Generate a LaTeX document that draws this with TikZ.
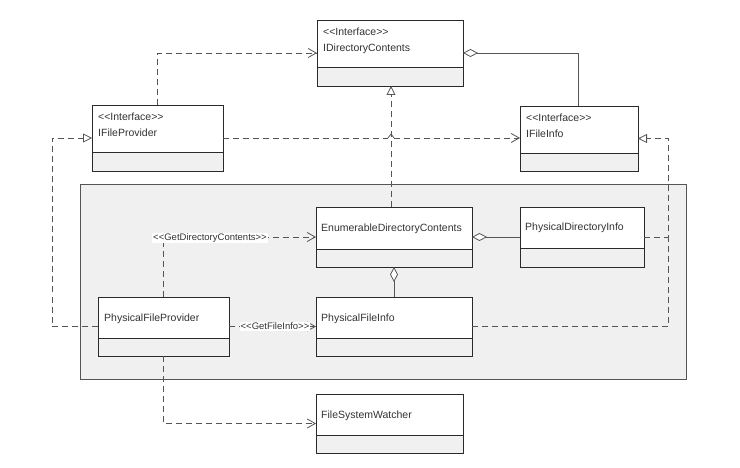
\documentclass[tikz,border=0pt]{standalone}
\usepackage{fontspec}
\setmainfont{Liberation Sans}
\usetikzlibrary{arrows.meta}
\definecolor{txt}{HTML}{333333}
\definecolor{ln}{HTML}{555555}
\definecolor{pk}{HTML}{F0F0F0}
\definecolor{bd}{HTML}{2A2A2A}
\newcommand\st[1]{<\kern0pt<#1>\kern0pt>}
\tikzset{
  box/.style={draw=bd, line width=0.9pt, fill=white, inner sep=0pt, outer sep=0pt, anchor=north west},
  comp/.style={fill=pk},
  bdline/.style={draw=bd, line width=0.9pt},
  lbl/.style={text=txt, font=\fontsize{10.5}{12}\selectfont, inner sep=0pt, anchor=base west},
  tag/.style={text=txt, font=\fontsize{9.5}{11}\selectfont, fill=white, inner sep=1pt},
  conn/.style={draw=ln, line width=0.8pt},
  dep/.style={conn, dash pattern=on 6pt off 4pt},
  openarr/.style={-{Straight Barb[length=8pt,width=9pt,line width=0.8pt]}},
  realize/.style={-{Triangle[open,length=9pt,width=9pt,fill=white,line width=0.8pt]}},
  aggr/.style={-{Diamond[open,length=15pt,width=8pt,fill=white,line width=0.8pt]}},
}
% name, left, top, right, bottom, divider
\newcommand\umlclass[6]{%
  \node[box, minimum width={(#4-#2)*1pt}, minimum height={(#5-#3)*1pt}] (#1) at (#2,#3) {};
  \fill[comp] (#2,#6) rectangle (#4,#5);
  \draw[bdline] (#2,#6) -- (#4,#6);
  \draw[bdline] (#2,#3) rectangle (#4,#5);
}
\begin{document}
\begin{tikzpicture}[x=1pt,y=-1pt]
\useasboundingbox (0,0) rectangle (740,468);
% package
\node[draw=bd!80, fill=pk, line width=0.9pt, inner sep=0pt, anchor=north west,
      minimum width=606pt, minimum height=195pt] (pkg) at (80,184) {};

% classes
\umlclass{IDC}{317}{20}{463}{86}{67}
\node[lbl] (IDCs) at (323,36) {\st{Interface}};
\node[lbl] (IDCn) at (323,52) {IDirectoryContents};

\umlclass{IFP}{92}{105}{223}{171}{152}
\node[lbl] (IFPs) at (98,121) {\st{Interface}};
\node[lbl] (IFPn) at (98,137) {IFileProvider};

\umlclass{IFI}{520}{106}{638}{171}{153}
\node[lbl] (IFIs) at (526,122) {\st{Interface}};
\node[lbl] (IFIn) at (526,138) {IFileInfo};

\umlclass{ED}{316}{207}{472}{267}{249}
\node[lbl] (EDn) at (321,232) {EnumerableDirectoryContents};

\umlclass{PDI}{520}{207}{644}{267}{248}
\node[lbl] (PDIn) at (525,231) {PhysicalDirectoryInfo};

\umlclass{PFP}{98}{297}{229}{356}{338}
\node[lbl] (PFPn) at (104,321) {PhysicalFileProvider};

\umlclass{PFI}{316}{297}{472}{356}{338}
\node[lbl] (PFIn) at (321,321) {PhysicalFileInfo};

\umlclass{FSW}{316}{394}{463}{453}{435}
\node[lbl] (FSWn) at (321,418) {FileSystemWatcher};

% connectors
\draw[dep, openarr] (IFP.north) |- (IDC.west);
\coordinate (hop) at ([xshift=-3pt]ED.north |- IFP.east);
\draw[dep] (IFP.east) -- ([xshift=-3pt]hop);
\draw[conn] ([xshift=-3pt]hop) -- ++(3,-4) -- ++(3,4);
\draw[dep, openarr] ([xshift=3pt]hop) -- (IFP.east -| IFI.west);
\draw[dep, realize] ([xshift=-3pt]ED.north) -- ([xshift=-3pt]ED.north |- IDC.south);
\draw[conn, aggr] ([xshift=-1pt]IFI.north) |- (IDC.east);
\draw[dep, realize] (PFP.west) -- ++(-46,0) |- (IFP.west);
\draw[dep, openarr] ([xshift=-0.5pt]PFP.north) |- (ED.west);
\node[tag] (gdc) at (210,238) {\st{GetDirectoryContents}};
\draw[dep, openarr] (PFP.east) -- (PFP.east -| PFI.west);
\node[tag] (gfi) at (275,326.5) {\st{GetFileInfo}};
\draw[conn, aggr] (PDI.west) -- (ED.east);
\draw[conn, aggr] (PFI.north) -- (ED.south);
\coordinate (j) at (668,237);
\draw[dep, realize] (PDI.east) -- (j) |- (IFI.east);
\draw[dep] (PFI.east) -| (j);
\draw[dep, openarr] ([xshift=-0.5pt]PFP.south) |- (FSW.west);
\end{tikzpicture}
\end{document}
